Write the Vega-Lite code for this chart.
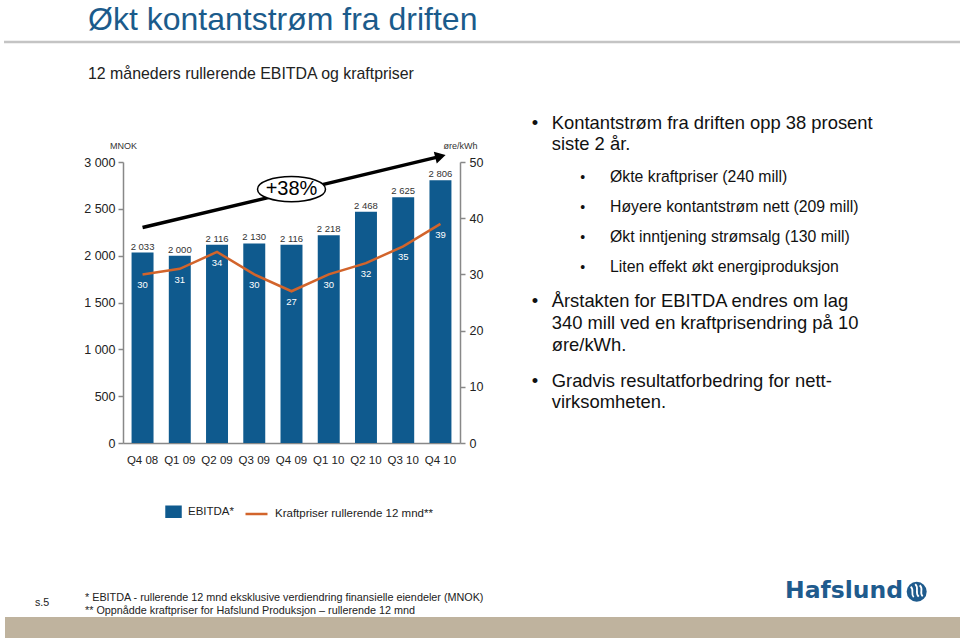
{
  "$schema": "https://vega.github.io/schema/vega-lite/v6.json",
  "autosize": {"type": "none"},
  "padding": {"left": 123, "top": 162, "right": 500, "bottom": 197},
  "width": 337,
  "height": 281,
  "background": "white",
  "config": {
    "font": "Liberation Sans",
    "view": {"stroke": null},
    "locale": {"number": {"decimal": ",", "thousands": " ", "grouping": [3], "currency": ["", " kr"]}}
  },
  "datasets": {
    "main": [
      {"kvartal": "Q4 08", "ebitda": 2033, "pris": 30},
      {"kvartal": "Q1 09", "ebitda": 2000, "pris": 31},
      {"kvartal": "Q2 09", "ebitda": 2116, "pris": 34},
      {"kvartal": "Q3 09", "ebitda": 2130, "pris": 30},
      {"kvartal": "Q4 09", "ebitda": 2116, "pris": 27},
      {"kvartal": "Q1 10", "ebitda": 2218, "pris": 30},
      {"kvartal": "Q2 10", "ebitda": 2468, "pris": 32},
      {"kvartal": "Q3 10", "ebitda": 2625, "pris": 35},
      {"kvartal": "Q4 10", "ebitda": 2806, "pris": 39}
    ],
    "arrow": [
      {"kvartal": "Q4 08", "verdi": 2300},
      {"kvartal": "Q4 10", "verdi": 3060}
    ]
  },
  "layer": [
    {
      "layer": [
        {
          "data": {"name": "main"},
          "mark": {"type": "bar"},
          "encoding": {
            "x": {
              "field": "kvartal", "type": "nominal", "sort": null,
              "scale": {"domain": ["Q4 08", "Q1 09", "Q2 09", "Q3 09", "Q4 09", "Q1 10", "Q2 10", "Q3 10", "Q4 10"], "paddingInner": 0.41, "paddingOuter": 0.23},
              "axis": {"title": null, "ticks": false, "labelPadding": 11, "labelFontSize": 11.5, "labelColor": "#222", "domainColor": "#888", "domainWidth": 1.5, "labelAngle": 0}
            },
            "y": {
              "field": "ebitda", "type": "quantitative",
              "scale": {"domain": [0, 3000], "nice": false},
              "axis": {"orient": "left", "values": [0, 500, 1000, 1500, 2000, 2500, 3000], "format": ",d", "title": "MNOK", "titleAngle": 0, "titleX": 0, "titleY": -17, "titleAlign": "center", "titleBaseline": "middle", "titleFontSize": 9, "titleFontWeight": "normal", "titleColor": "#333", "labelFontSize": 12.5, "labelColor": "#222", "labelPadding": 3, "tickSize": 5, "tickColor": "#888", "tickWidth": 1.5, "domainColor": "#888", "domainWidth": 1.5, "grid": false}
            },
            "color": {
              "datum": "EBITDA*",
              "scale": {"domain": ["EBITDA*", "Kraftpriser rullerende 12 mnd**"], "range": ["#0f5a8e", "#d2642b"]},
              "legend": {
                "orient": "none", "legendX": 34, "legendY": 337, "direction": "horizontal", "title": null,
                "symbolSize": 484, "labelFontSize": 11.5, "labelFont": "Liberation Sans", "labelColor": "#222",
                "labelOffset": 6, "columnPadding": 5, "padding": 0, "symbolStrokeWidth": 2.5,
                "encode": {
                  "symbols": {
                    "update": {
                      "shape": [{"test": "datum.value === 'EBITDA*'", "value": "M -0.27 -0.45 H 1 V 0.45 H -0.27 Z"}, {"value": "stroke"}],
                      "fill": [{"test": "datum.value === 'EBITDA*'", "value": "#0f5a8e"}, {"value": "transparent"}],
                      "stroke": [{"test": "datum.value === 'EBITDA*'", "value": "transparent"}, {"value": "#d2642b"}],
                      "strokeWidth": {"value": 2.5},
                      "opacity": {"value": 1}
                    }
                  }
                }
              }
            }
          }
        },
        {
          "data": {"name": "main"},
          "mark": {"type": "text", "baseline": "alphabetic", "dy": -3, "fontSize": 9.5, "color": "#333"},
          "encoding": {
            "x": {"field": "kvartal", "type": "nominal", "sort": null},
            "y": {"field": "ebitda", "type": "quantitative"},
            "text": {"field": "ebitda", "type": "quantitative", "format": ",d"}
          }
        },
        {
          "data": {"name": "arrow"},
          "mark": {"type": "line", "color": "black", "strokeWidth": 3.5},
          "encoding": {
            "x": {"field": "kvartal", "type": "nominal", "sort": null},
            "y": {"field": "verdi", "type": "quantitative"}
          }
        },
        {
          "data": {"values": [{}]},
          "mark": {"type": "point", "shape": "triangle-right", "angle": -14, "size": 150, "filled": true, "color": "black", "opacity": 1},
          "encoding": {
            "x": {"datum": "Q4 10"},
            "y": {"datum": 3060}
          }
        },
        {
          "data": {"values": [{}]},
          "mark": {"type": "point", "shape": "M -1 0 A 1 0.37 0 1 1 1 0 A 1 0.37 0 1 1 -1 0 Z", "size": 4624, "filled": true, "fill": "white", "stroke": "black", "strokeWidth": 1.5, "opacity": 1},
          "encoding": {
            "x": {"datum": "Q4 09"},
            "y": {"datum": 2710}
          }
        },
        {
          "data": {"values": [{}]},
          "mark": {"type": "text", "text": "+38%", "fontSize": 20, "color": "black", "baseline": "middle", "align": "center"},
          "encoding": {
            "x": {"datum": "Q4 09"},
            "y": {"datum": 2710}
          }
        },
        {
          "data": {"values": [{}]},
          "mark": {"type": "text", "text": "Økt kontantstrøm fra driften", "fontSize": 32, "color": "#1b5b8b", "align": "left", "baseline": "alphabetic"},
          "encoding": {"x": {"value": -35}, "y": {"value": -132.5}}
        },
        {
          "data": {"values": [{}]},
          "mark": {"type": "rule", "color": "#c4c4c4", "strokeWidth": 2.5},
          "encoding": {"x": {"value": -119}, "x2": {"value": 837}, "y": {"value": -120}}
        },
        {
          "data": {"values": [{}]},
          "mark": {"type": "text", "text": "12 måneders rullerende EBITDA og kraftpriser", "fontSize": 15.9, "color": "#222", "align": "left", "baseline": "alphabetic"},
          "encoding": {"x": {"value": -35}, "y": {"value": -83}}
        },
        {
          "data": {"values": [{}]},
          "mark": {"type": "text", "text": ["Kontantstrøm fra driften opp 38 prosent", "siste 2 år."], "lineHeight": 21, "fontSize": 18.4, "color": "#111", "align": "left", "baseline": "alphabetic"},
          "encoding": {"x": {"value": 428.7}, "y": {"value": -33}}
        },
        {
          "data": {"values": [{}]},
          "mark": {"type": "text", "text": ["Årstakten for EBITDA endres om lag", "340 mill ved en kraftprisendring på 10", "øre/kWh."], "lineHeight": 21.7, "fontSize": 18.4, "color": "#111", "align": "left", "baseline": "alphabetic"},
          "encoding": {"x": {"value": 428.7}, "y": {"value": 145.3}}
        },
        {
          "data": {"values": [{}]},
          "mark": {"type": "text", "text": ["Gradvis resultatforbedring for nett-", "virksomheten."], "lineHeight": 21.6, "fontSize": 18.4, "color": "#111", "align": "left", "baseline": "alphabetic"},
          "encoding": {"x": {"value": 428.7}, "y": {"value": 224.7}}
        },
        {
          "data": {"values": [{}]},
          "mark": {"type": "text", "text": "•", "fontSize": 18.4, "color": "#111", "align": "center", "baseline": "alphabetic"},
          "encoding": {"x": {"value": 412}, "y": {"value": -33}}
        },
        {
          "data": {"values": [{}]},
          "mark": {"type": "text", "text": "•", "fontSize": 18.4, "color": "#111", "align": "center", "baseline": "alphabetic"},
          "encoding": {"x": {"value": 412}, "y": {"value": 145.3}}
        },
        {
          "data": {"values": [{}]},
          "mark": {"type": "text", "text": "•", "fontSize": 18.4, "color": "#111", "align": "center", "baseline": "alphabetic"},
          "encoding": {"x": {"value": 412}, "y": {"value": 224.7}}
        },
        {
          "data": {"values": [{}]},
          "mark": {"type": "text", "text": ["Økte kraftpriser (240 mill)", "Høyere kontantstrøm nett (209 mill)", "Økt inntjening strømsalg (130 mill)", "Liten effekt økt energiproduksjon"], "lineHeight": 30.2, "fontSize": 15.8, "color": "#111", "align": "left", "baseline": "alphabetic"},
          "encoding": {"x": {"value": 487}, "y": {"value": 19.7}}
        },
        {
          "data": {"values": [{}]},
          "mark": {"type": "text", "text": ["•", "•", "•", "•"], "lineHeight": 30.2, "fontSize": 14, "color": "#111", "align": "center", "baseline": "alphabetic"},
          "encoding": {"x": {"value": 459.7}, "y": {"value": 19.7}}
        },
        {
          "data": {"values": [{}]},
          "mark": {"type": "text", "text": ["* EBITDA - rullerende 12 mnd  eksklusive verdiendring finansielle eiendeler (MNOK)", "** Oppnådde kraftpriser for Hafslund Produksjon – rullerende 12 mnd"], "lineHeight": 13, "fontSize": 10.8, "color": "#222", "align": "left", "baseline": "alphabetic"},
          "encoding": {"x": {"value": -38}, "y": {"value": 438.7}}
        },
        {
          "data": {"values": [{}]},
          "mark": {"type": "text", "text": "s.5", "fontSize": 10.7, "color": "#222", "align": "left", "baseline": "alphabetic"},
          "encoding": {"x": {"value": -88}, "y": {"value": 444}}
        },
        {
          "data": {"values": [{}]},
          "mark": {"type": "rect", "color": "#bfb39e"},
          "encoding": {"x": {"value": -118}, "x2": {"value": 837}, "y": {"value": 455}, "y2": {"value": 476}}
        },
        {
          "data": {"values": [{}]},
          "mark": {"type": "text", "text": "Hafslund", "font": "DejaVu Sans", "fontWeight": "bold", "fontSize": 23.5, "color": "#1f5b8d", "align": "left", "baseline": "alphabetic"},
          "encoding": {"x": {"value": 662}, "y": {"value": 436.3}}
        },
        {
          "data": {"values": [{}]},
          "mark": {"type": "point", "shape": "circle", "size": 400, "filled": true, "color": "#1f5b8d", "opacity": 1},
          "encoding": {"x": {"value": 793.7}, "y": {"value": 429.7}}
        },
        {
          "data": {"values": [{}]},
          "mark": {"type": "point", "shape": "M -0.6 -0.5 C -0.2 -0.2 -0.65 0.2 -0.3 0.55 M -0.15 -0.75 C 0.3 -0.35 -0.25 0.05 0.2 0.5 M 0.3 -0.65 C 0.75 -0.3 0.2 0.1 0.6 0.45", "size": 400, "filled": false, "stroke": "white", "strokeWidth": 1.8, "opacity": 1},
          "encoding": {"x": {"value": 793.7}, "y": {"value": 429.7}}
        }
      ]
    },
    {
      "layer": [
        {
          "data": {"name": "main"},
          "mark": {"type": "line", "strokeWidth": 2.5},
          "encoding": {
            "x": {"field": "kvartal", "type": "nominal", "sort": null},
            "y": {
              "field": "pris", "type": "quantitative",
              "scale": {"domain": [0, 50], "nice": false},
              "axis": {"orient": "right", "values": [0, 10, 20, 30, 40, 50], "title": "øre/kWh", "titleAngle": 0, "titleX": 0, "titleY": -17, "titleAlign": "center", "titleBaseline": "middle", "titleFontSize": 9, "titleFontWeight": "normal", "titleColor": "#333", "labelFontSize": 12.5, "labelColor": "#222", "labelPadding": 4, "tickSize": 5, "tickColor": "#888", "tickWidth": 1.5, "domainColor": "#888", "domainWidth": 1.5, "grid": false}
            },
            "color": {"datum": "Kraftpriser rullerende 12 mnd**"}
          }
        },
        {
          "data": {"name": "main"},
          "mark": {"type": "text", "baseline": "middle", "dy": 11, "fontSize": 9.5, "color": "white"},
          "encoding": {
            "x": {"field": "kvartal", "type": "nominal", "sort": null},
            "y": {"field": "pris", "type": "quantitative"},
            "text": {"field": "pris", "type": "quantitative"}
          }
        }
      ]
    }
  ],
  "resolve": {"scale": {"y": "independent"}}
}
